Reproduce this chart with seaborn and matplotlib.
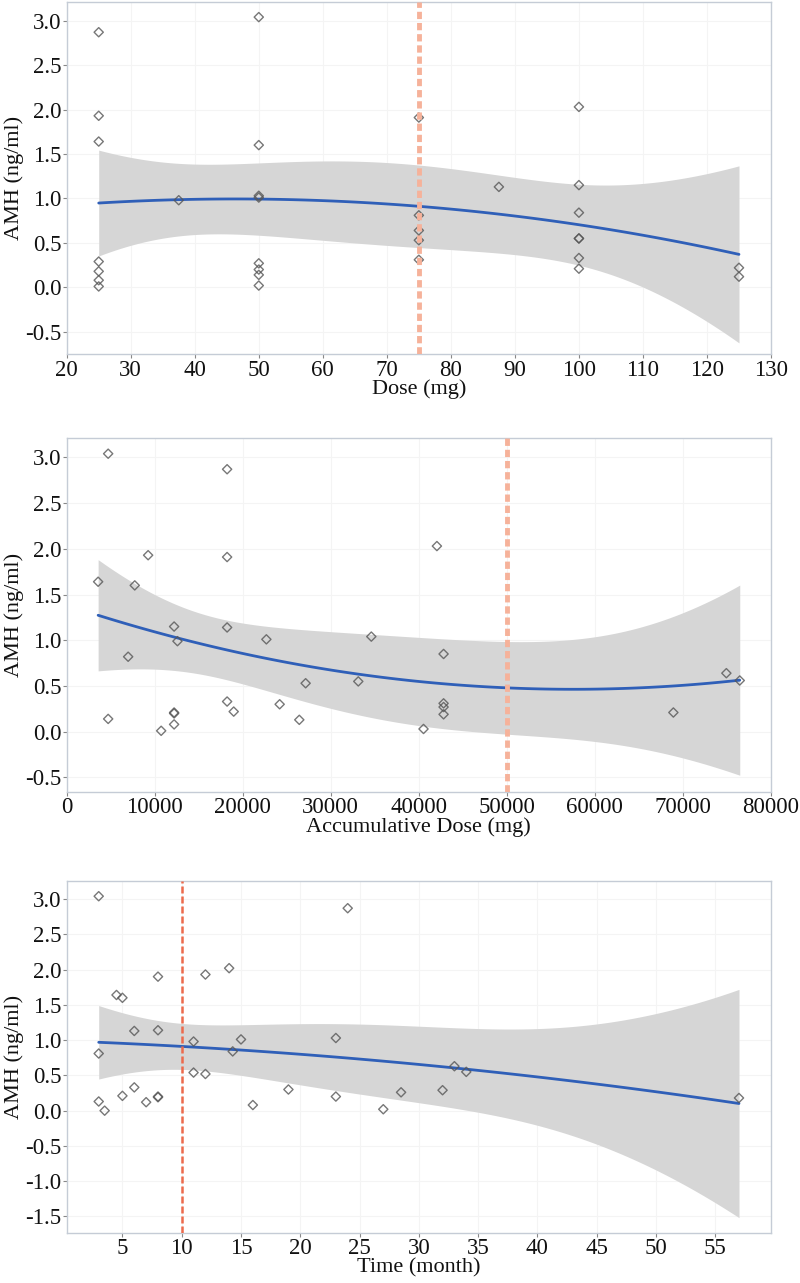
import numpy as np
import pandas as pd
import matplotlib
matplotlib.use("Agg")
import matplotlib.pyplot as plt
import seaborn as sns

# ---- Panel 1: Dose vs AMH ----
dose_x = [25, 25, 25, 25, 25, 25, 25,
          37.5,
          50, 50, 50, 50, 50, 50, 50, 50,
          75, 75, 75, 75, 75,
          87.5,
          100, 100, 100, 100, 100, 100, 100,
          125, 125]
dose_amh = [2.87, 1.93, 1.64, 0.29, 0.18, 0.08, 0.01,
            0.98,
            3.04, 1.60, 1.03, 1.01, 0.27, 0.20, 0.14, 0.02,
            1.91, 0.81, 0.64, 0.53, 0.31,
            1.13,
            2.03, 1.15, 0.84, 0.55, 0.55, 0.33, 0.21,
            0.22, 0.12]

# ---- Panel 2: Accumulative dose vs AMH ----
acc_x = [3570, 4710, 4710, 6980, 7730, 9250, 10730, 12200, 12200, 12200, 12200,
         12580, 18220, 18220, 18220, 18220, 18970, 22680, 24190, 26420, 27140,
         33120, 34600, 40530, 42050, 42810, 42810, 42810, 42810, 68910, 74930, 76450]
acc_amh = [1.64, 3.04, 0.14, 0.82, 1.60, 1.93, 0.01, 1.15, 0.20, 0.21, 0.08,
           0.99, 2.87, 1.91, 1.14, 0.33, 0.22, 1.01, 0.30, 0.13, 0.53,
           0.55, 1.04, 0.03, 2.03, 0.85, 0.31, 0.27, 0.19, 0.21, 0.64, 0.56]

# ---- Panel 3: Time vs AMH ----
time_x = [3, 3, 3, 3.5, 4.5, 5, 5, 6, 6, 7, 8, 8, 8, 8,
          11, 11, 12, 12, 14, 14.3, 15, 16, 19, 23, 23, 24, 27, 28.5,
          32, 33, 34, 57]
time_amh = [3.04, 0.81, 0.13, 0.00, 1.64, 1.60, 0.21, 1.13, 0.33, 0.12, 1.90, 1.14, 0.19, 0.20,
            0.98, 0.54, 1.93, 0.52, 2.02, 0.84, 1.01, 0.08, 0.30, 1.03, 0.20, 2.87, 0.02, 0.26,
            0.29, 0.63, 0.55, 0.18]

panels = [
    dict(x=dose_x, y=dose_amh, xlabel="Dose (mg)", xlim=(20, 130),
         xticks=list(range(20, 131, 10)), ylim=(-0.75, 3.21),
         yticks=[-0.5, 0, 0.5, 1.0, 1.5, 2.0, 2.5, 3.0], vline=75,
         vcolor="#f6b29a", vlw=3.5, vdash=(1.5, 0.8)),
    dict(x=acc_x, y=acc_amh, xlabel="Accumulative Dose (mg)", xlim=(0, 80000),
         xticks=list(range(0, 80001, 10000)), ylim=(-0.656, 3.215),
         yticks=[-0.5, 0, 0.5, 1.0, 1.5, 2.0, 2.5, 3.0], vline=50000,
         vcolor="#f6b29a", vlw=3.5, vdash=(1.5, 0.8)),
    dict(x=time_x, y=time_amh, xlabel="Time (month)", xlim=(0.3, 59.7),
         xticks=list(range(5, 56, 5)), ylim=(-1.73, 3.26),
         yticks=[-1.5, -1.0, -0.5, 0, 0.5, 1.0, 1.5, 2.0, 2.5, 3.0], vline=10,
         vcolor="#ec6a4c", vlw=1.8, vdash=(2.8, 1.2)),
]


def quad_band(x, y, grid):
    """Analytic 95% confidence band of a quadratic least-squares fit."""
    x = np.asarray(x, float)
    y = np.asarray(y, float)
    X = np.column_stack([np.ones_like(x), x, x ** 2])
    beta, *_ = np.linalg.lstsq(X, y, rcond=None)
    resid = y - X @ beta
    dof = len(x) - 3
    s2 = resid @ resid / dof
    XtXi = np.linalg.inv(X.T @ X)
    G = np.column_stack([np.ones_like(grid), grid, grid ** 2])
    fit = G @ beta
    se = np.sqrt(s2 * np.einsum("ij,jk,ik->i", G, XtXi, G))
    tq = 1.96 + 2.4 / dof
    return fit - tq * se, fit + tq * se


sns.set_theme(style="white")
plt.rcParams['font.family'] = ['Liberation Serif', 'DejaVu Serif']

fig = plt.figure(figsize=(8.0, 12.83), dpi=100)
W, H = 800, 1283
boxes = [(66.7, 2, 771, 354), (66.7, 437.7, 771, 791.7), (66.7, 880.7, 771, 1232.7)]

for p, (l, t, r, b) in zip(panels, boxes):
    ax = fig.add_axes([l / W, 1 - b / H, (r - l) / W, (b - t) / H])
    df = pd.DataFrame({"x": p["x"], "y": p["y"]})
    grid = np.linspace(df["x"].min(), df["x"].max(), 200)
    lo, hi = quad_band(df["x"], df["y"], grid)
    ax.fill_between(grid, lo, hi, color="#d6d6d6", lw=0, zorder=2)
    sns.regplot(data=df, x="x", y="y", order=2, ci=None, ax=ax, truncate=True,
                marker="D",
                scatter_kws=dict(s=22, facecolors="none",
                                 edgecolors="#555555", linewidths=1.0, zorder=4),
                line_kws=dict(color="#2f5fb8", lw=2.0, zorder=3))
    ax.axvline(p["vline"], color=p["vcolor"], lw=p["vlw"], ls=(0, p["vdash"]), zorder=5)
    ax.set_xlim(*p["xlim"])
    ax.set_ylim(*p["ylim"])
    ax.set_xticks(p["xticks"])
    ax.set_yticks(p["yticks"])
    ax.set_yticklabels([f"{v:.1f}" for v in p["yticks"]])
    ax.set_xticklabels([str(v) for v in p["xticks"]])
    ax.grid(True, color="#f4f4f4", lw=0.8)
    ax.set_axisbelow(True)
    for s in ax.spines.values():
        s.set_color("#c5ccd6")
        s.set_linewidth(1.0)
    ax.tick_params(axis="both", which="both", direction="out", length=3, width=0.8,
                   color="#888888", labelsize=16.5, labelcolor="#111111", pad=1,
                   bottom=True, left=True)
    ax.set_xlabel(p["xlabel"], fontsize=16, color="#111111", labelpad=-1)
    ax.set_ylabel("AMH (ng/ml)", fontsize=16, color="#111111", labelpad=1)

fig.savefig("out.png", dpi=100, facecolor="white")
